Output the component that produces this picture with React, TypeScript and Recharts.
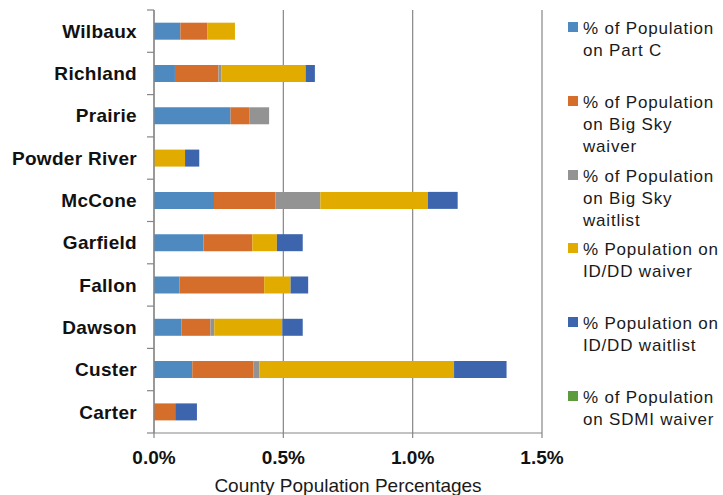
import React from 'react';
import { BarChart, Bar, XAxis, YAxis, CartesianGrid, Legend } from 'recharts';

const categories = ['Wilbaux', 'Richland', 'Prairie', 'Powder River', 'McCone', 'Garfield', 'Fallon', 'Dawson', 'Custer', 'Carter'];
const partC = [0.102, 0.081, 0.296, 0, 0.232, 0.191, 0.098, 0.106, 0.148, 0];
const bigSkyWaiver = [0.105, 0.168, 0.072, 0, 0.237, 0.189, 0.328, 0.112, 0.237, 0.082];
const bigSkyWaitlist = [0, 0.011, 0.077, 0, 0.174, 0, 0, 0.015, 0.022, 0];
const iddWaiver = [0.106, 0.326, 0, 0.12, 0.416, 0.095, 0.102, 0.263, 0.753, 0];
const iddWaitlist = [0, 0.036, 0, 0.055, 0.115, 0.1, 0.068, 0.079, 0.203, 0.084];
const sdmiWaiver = [0, 0, 0, 0, 0, 0, 0, 0, 0, 0];
const xTicks = [0, 0.5, 1.0, 1.5];

const seriesNames = [
  '% of Population\non Part C',
  '% of Population\non Big Sky\nwaiver',
  '% of Population\non Big Sky\nwaitlist',
  '% Population on\nID/DD waiver',
  '% Population on\nID/DD waitlist',
  '% of Population\non SDMI waiver',
];
const seriesKeys = ['partC', 'bigSkyWaiver', 'bigSkyWaitlist', 'iddWaiver', 'iddWaitlist', 'sdmiWaiver'];
const seriesValues = [partC, bigSkyWaiver, bigSkyWaitlist, iddWaiver, iddWaitlist, sdmiWaiver];
const seriesColors = ['#4E8AC0', '#D46E2A', '#939393', '#E1AB00', '#3D65AE', '#5E9A3E'];

const data = categories.map((name, i) => {
  const row: Record<string, string | number> = { name };
  seriesKeys.forEach((k, s) => {
    row[k] = seriesValues[s][i];
  });
  return row;
});

const W = 723;
const H = 495;
const PLOT_LEFT = 154;
const PLOT_TOP = 10;
const PLOT_BOTTOM = 433;
const PLOT_RIGHT = 542;
const X_AXIS_H = 46;
const BAND = (PLOT_BOTTOM - PLOT_TOP) / categories.length;
const GRAY = '#868686';
const FONT = '"Liberation Sans", Arial, sans-serif';

const YTick = (props: any) => {
  const { y, payload, index } = props;
  const isLast = index === categories.length - 1;
  return (
    <g>
      <line x1={PLOT_LEFT - 7} x2={PLOT_LEFT} y1={y - BAND / 2} y2={y - BAND / 2} stroke={GRAY} strokeWidth={1.2} />
      {isLast && (
        <line x1={PLOT_LEFT - 7} x2={PLOT_LEFT} y1={y + BAND / 2} y2={y + BAND / 2} stroke={GRAY} strokeWidth={1.2} />
      )}
      <text x={PLOT_LEFT - 17} y={y} dy="0.35em" textAnchor="end" fontSize={19} fontWeight={700} fill="#111" fontFamily={FONT} letterSpacing={0.3}>
        {payload.value}
      </text>
    </g>
  );
};

const LegendContent = (props: any) => {
  const items = [...(props.payload || [])].sort(
    (a: any, b: any) => seriesKeys.indexOf(a.dataKey) - seriesKeys.indexOf(b.dataKey)
  );
  return (
    <div style={{ fontFamily: FONT }}>
      {items.map((p: any, i: number) => (
        <div key={i} style={{ position: 'relative', height: 73.8 }}>
          <div style={{ position: 'absolute', left: 0, top: 4, width: 10, height: 10, background: p.color }} />
          <div
            style={{
              position: 'absolute',
              left: 15,
              top: 0,
              whiteSpace: 'pre-line',
              fontSize: 17,
              letterSpacing: 0.8,
              lineHeight: '22px',
              color: '#1a1a1a',
              width: 160,
            }}
          >
            {p.value}
          </div>
        </div>
      ))}
    </div>
  );
};

export default function App() {
  return (
    <div style={{ position: 'absolute', left: 0, top: 0, width: W, height: H, background: '#fff', fontFamily: FONT }}>
      <BarChart
        width={W}
        height={H}
        data={data}
        layout="vertical"
        barCategoryGap="30%"
        margin={{ top: PLOT_TOP, bottom: H - PLOT_BOTTOM - X_AXIS_H, left: 0, right: W - PLOT_RIGHT }}
      >
        <CartesianGrid horizontal={false} vertical={true} stroke={GRAY} strokeWidth={1.2} />
        <XAxis
          type="number"
          domain={[0, 1.5]}
          ticks={xTicks}
          tickFormatter={(v: number) => v.toFixed(1) + '%'}
          height={X_AXIS_H}
          tickSize={5}
          tickMargin={13}
          stroke={GRAY}
          axisLine={{ stroke: GRAY, strokeWidth: 1.2 }}
          tickLine={{ stroke: GRAY, strokeWidth: 1.2 }}
          tick={{ fontSize: 19, fontWeight: 700, fill: '#111', fontFamily: FONT }}
          label={{ value: 'County Population Percentages', position: 'bottom', offset: 0, fontSize: 19, fill: '#1a1a1a', fontFamily: FONT }}
        />
        <YAxis
          type="category"
          dataKey="name"
          width={PLOT_LEFT}
          tickLine={false}
          axisLine={{ stroke: GRAY, strokeWidth: 1.2 }}
          tick={<YTick />}
          interval={0}
        />
        <Legend
          layout="vertical"
          align="center"
          verticalAlign="middle"
          wrapperStyle={{ left: 568, top: 18, width: 155 }}
          content={<LegendContent />}
        />
        {seriesKeys.map((k, s) => (
          <Bar key={k} dataKey={k} name={seriesNames[s]} stackId="a" fill={seriesColors[s]} isAnimationActive={false} />
        ))}
      </BarChart>
    </div>
  );
}
